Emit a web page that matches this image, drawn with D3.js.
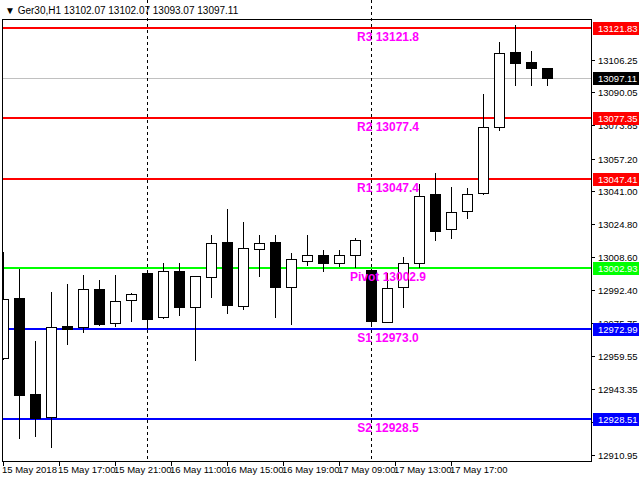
<!DOCTYPE html>
<html>
<head>
<meta charset="utf-8">
<script src="https://cdn.jsdelivr.net/npm/d3@7"></script>
<style>
  body { margin: 0; background: #fff; }
  svg text { font-family: "Liberation Sans", Arial, sans-serif; }
</style>
</head>
<body>
<svg id="chart" width="640" height="480"></svg>
<script>
// OHLC values, hourly bars
const opens  = [12958.7,12988.3,12940.9,12929.5,12974.5,12974.0,12992.8,12975.9,12987.3,13000.7,12978.9,13001.7,12983.9,12998.7,13016.0,12984.4,13012.6,13016.0,12993.8,13006.6,13009.6,13005.6,13009.6,13002.2,12976.4,12993.8,13005.6,13039.8,13022.5,13031.4,13040.2,13072.9,13110.0,13105.0,13102.07];
const highs  = [13011.1,13002.7,12967.1,12991.3,12995.3,12999.7,12997.2,12999.7,12990.8,13001.2,13005.6,13005.6,12999.2,13019.5,13032.3,13025.9,13019.5,13019.5,13010.6,13019.5,13012.1,13012.1,13018.0,13002.7,13000.7,13008.6,13044.7,13050.1,13043.2,13042.7,13089.2,13114.9,13123.3,13110.5,13102.07];
const lows   = [12957.7,12918.6,12919.6,12914.2,12965.1,12971.0,12974.5,12974.0,12976.4,12973.0,12977.9,12979.3,12957.2,12988.3,12980.4,12982.4,12998.7,12978.4,12974.9,13004.2,13001.2,13003.7,13003.2,12974.0,12976.4,12983.4,13003.2,13016.5,13017.5,13027.4,13039.3,13070.9,13093.2,13093.2,13093.07];
const closes = [12987.8,12940.4,12929.0,12974.0,12973.0,12992.8,12975.4,12986.8,12990.3,12977.9,13001.7,12983.9,12999.2,13015.5,12984.9,13013.1,13015.5,12993.8,13007.6,13009.6,13005.6,13009.6,13017.0,12976.9,12993.3,13005.6,13038.8,13021.5,13030.9,13039.8,13072.9,13109.5,13104.5,13102.0,13097.11];

const levelNames  = ["R3","R2","R1","Pivot","S1","S2"];
const levelValues = [13121.83,13077.35,13047.41,13002.93,12972.99,12928.51];
const levelColors = ["#ff0000","#ff0000","#ff0000","#00ff00","#0000ff","#0000ff"];

const yTicks = [13106.25,13090.05,13073.85,13057.20,13041.00,13024.80,13008.60,12992.40,12975.75,12959.55,12943.35,12927.15,12910.95];
const dateLabels = ["15 May 2018","15 May 17:00","15 May 21:00","16 May 11:00","16 May 15:00","16 May 19:00","17 May 09:00","17 May 13:00","17 May 17:00"];
const separators = [9, 23];   // bar indexes where a new day begins
const lastPrice = 13097.11;
const title = "\u25BC Ger30,H1  13102.07 13102.07 13093.07 13097.11";

const svg = d3.select("#chart");
const L = 2, R = 591, T = 19, B = 461;

const x = d3.scaleLinear().domain([0, 34]).range([3, 547]);
const y = d3.scaleLinear().domain([12928.51, 13121.83]).range([419, 28]);

// frame
svg.append("rect").attr("x", L + 0.5).attr("y", T + 0.5).attr("width", R - L).attr("height", B - T)
  .attr("fill", "none").attr("stroke", "#000");

const plot = svg.append("g");
plot.append("clipPath").attr("id", "clip").append("rect")
  .attr("x", L + 1).attr("y", T + 1).attr("width", R - L - 1).attr("height", B - T - 1);
const g = plot.append("g").attr("clip-path", "url(#clip)");

// day separators
svg.selectAll("line.sep").data(separators).join("line")
  .attr("x1", d => Math.round(x(d)) + 0.5).attr("x2", d => Math.round(x(d)) + 0.5)
  .attr("y1", 0).attr("y2", B)
  .attr("stroke", "#000").attr("stroke-dasharray", "3,3");

// current price line
g.append("line").attr("x1", L).attr("x2", R).attr("y1", Math.round(y(lastPrice)) + 0.5).attr("y2", Math.round(y(lastPrice)) + 0.5)
  .attr("stroke", "#c0c0c0");

// pivot lines
g.selectAll("line.lvl").data(levelValues).join("line")
  .attr("x1", L).attr("x2", R)
  .attr("y1", d => Math.round(y(d))).attr("y2", d => Math.round(y(d)))
  .attr("stroke", (d, i) => levelColors[i]).attr("stroke-width", 2);

// candles
const idx = d3.range(opens.length);
g.selectAll("line.wick").data(idx).join("line")
  .attr("x1", i => Math.round(x(i)) + 0.5).attr("x2", i => Math.round(x(i)) + 0.5)
  .attr("y1", i => Math.round(y(highs[i]))).attr("y2", i => Math.round(y(lows[i])))
  .attr("stroke", "#000");
g.selectAll("rect.body").data(idx).join("rect")
  .attr("x", i => Math.round(x(i)) - 4.5).attr("width", 10)
  .attr("y", i => Math.round(y(Math.max(opens[i], closes[i]))) + 0.5)
  .attr("height", i => Math.max(1, Math.round(y(Math.min(opens[i], closes[i]))) - Math.round(y(Math.max(opens[i], closes[i])))))
  .attr("fill", i => closes[i] < opens[i] ? "#000" : "#fff")
  .attr("stroke", "#000");

// level labels
g.selectAll("text.lvl").data(levelValues).join("text")
  .attr("x", 388).attr("y", d => Math.round(y(d)) + 13)
  .attr("text-anchor", "middle").attr("fill", "#ff00ff")
  .attr("font-weight", "bold").attr("font-size", 12)
  .text((d, i) => levelNames[i] + " " + d.toFixed(1));

// y axis ticks
svg.selectAll("line.yt").data(yTicks).join("line")
  .attr("x1", R).attr("x2", R + 4)
  .attr("y1", d => Math.round(y(d)) + 0.5).attr("y2", d => Math.round(y(d)) + 0.5)
  .attr("stroke", "#000");
svg.selectAll("text.yt").data(yTicks).join("text")
  .attr("x", 598).attr("y", d => y(d) + 4)
  .attr("font-size", 9.5).attr("fill", "#000")
  .text(d => d.toFixed(2));

// price boxes
const boxes = levelValues.map((v, i) => ({ v, c: levelColors[i] })).concat([{ v: lastPrice, c: "#000" }]);
svg.selectAll("rect.box").data(boxes).join("rect")
  .attr("x", 593).attr("y", d => Math.round(y(d.v)) - 6).attr("width", 46).attr("height", 13)
  .attr("fill", d => d.c);
svg.selectAll("text.box").data(boxes).join("text")
  .attr("x", 598).attr("y", d => Math.round(y(d.v)) + 4)
  .attr("font-size", 9.5).attr("fill", "#fff")
  .text(d => d.v.toFixed(2));

// x axis labels, one every 3.5 bars
svg.selectAll("line.xt").data(dateLabels).join("line")
  .attr("x1", (d, i) => Math.round(x(i * 3.5)) + 0.5).attr("x2", (d, i) => Math.round(x(i * 3.5)) + 0.5)
  .attr("y1", B).attr("y2", B + 5).attr("stroke", "#000");
svg.selectAll("text.xt").data(dateLabels).join("text")
  .attr("x", (d, i) => x(i * 3.5) - 1).attr("y", 473)
  .attr("font-size", 9.5).attr("fill", "#000")
  .text(d => d);

// title
svg.append("text").attr("x", 5).attr("y", 14).attr("font-size", 10).attr("fill", "#000").text(title);
</script>
</body>
</html>
